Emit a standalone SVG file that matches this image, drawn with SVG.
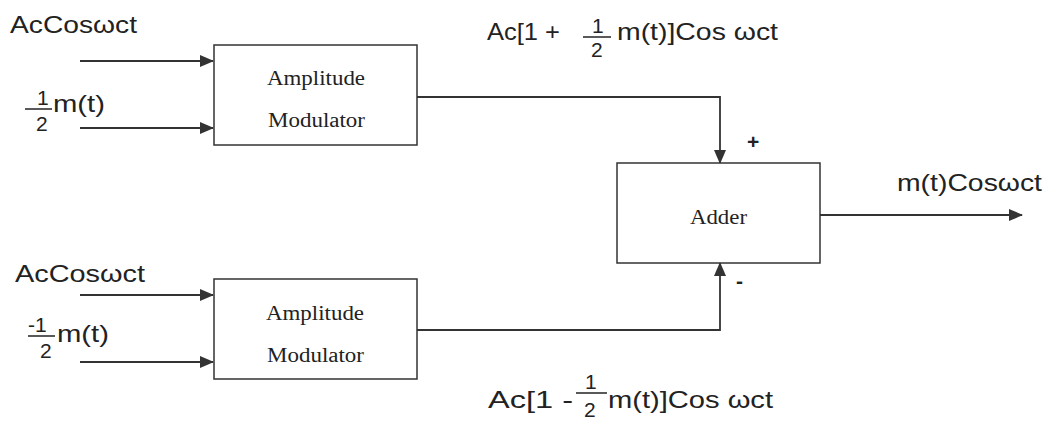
<svg xmlns="http://www.w3.org/2000/svg" width="1050" height="427" viewBox="0 0 1050 427">
<style>
.box{fill:#fff;stroke:#333;stroke-width:1.5}
.ln{fill:none;stroke:#333;stroke-width:1.8}
.s{font-family:"Liberation Sans",Arial,sans-serif;font-size:24px;fill:#222}
.f{font-family:"Liberation Sans",Arial,sans-serif;font-size:21px;fill:#222}
.r{font-family:"Liberation Serif","Times New Roman",serif;font-size:20px;fill:#222}
</style>
<defs>
<marker id="ah" markerWidth="14" markerHeight="12" refX="13" refY="6" orient="auto" markerUnits="userSpaceOnUse">
<path d="M0,0 L14,6 L0,12 Z" fill="#333"/>
</marker>
</defs>
<rect width="1050" height="427" fill="#fff"/>
<g id="connectors">
<line class="ln" x1="80" y1="61" x2="213" y2="61" marker-end="url(#ah)"/>
<line class="ln" x1="80" y1="128" x2="213" y2="128" marker-end="url(#ah)"/>
<line class="ln" x1="80" y1="295" x2="213" y2="295" marker-end="url(#ah)"/>
<line class="ln" x1="80" y1="362" x2="213" y2="362" marker-end="url(#ah)"/>
<polyline class="ln" points="417,97 720,97 720,163" marker-end="url(#ah)"/>
<polyline class="ln" points="417,330 720,330 720,263" marker-end="url(#ah)"/>
<line class="ln" x1="820" y1="215" x2="1022" y2="215" marker-end="url(#ah)"/>
</g>
<g id="mod1">
<rect class="box" x="214" y="45" width="203" height="100"/>
<text class="r" x="267" y="85" textLength="98" lengthAdjust="spacingAndGlyphs">Amplitude</text>
<text class="r" x="268" y="127" textLength="97" lengthAdjust="spacingAndGlyphs">Modulator</text>
</g>
<g id="mod2">
<rect class="box" x="214" y="279" width="203" height="100"/>
<text class="r" x="266" y="320" textLength="98" lengthAdjust="spacingAndGlyphs">Amplitude</text>
<text class="r" x="267" y="362" textLength="97" lengthAdjust="spacingAndGlyphs">Modulator</text>
</g>
<g id="adder">
<rect class="box" x="617" y="163" width="203" height="100"/>
<text class="r" x="690" y="224" textLength="57" lengthAdjust="spacingAndGlyphs">Adder</text>
</g>
<g id="labels">
<text class="s" x="10" y="33" textLength="127" lengthAdjust="spacingAndGlyphs">AcCosωct</text>
<text class="f" x="37" y="105">1</text>
<line x1="25" y1="109" x2="52" y2="109" stroke="#222" stroke-width="1.5"/>
<text class="f" x="36" y="131">2</text>
<text class="s" x="53" y="112" textLength="52" lengthAdjust="spacingAndGlyphs">m(t)</text>

<text class="s" x="15" y="282" textLength="130" lengthAdjust="spacingAndGlyphs">AcCosωct</text>
<text class="f" x="28" y="332">-1</text>
<line x1="28" y1="336" x2="55" y2="336" stroke="#222" stroke-width="1.5"/>
<text class="f" x="40" y="358">2</text>
<text class="s" x="57" y="342" textLength="52" lengthAdjust="spacingAndGlyphs">m(t)</text>

<text class="s" x="487" y="40" textLength="73" lengthAdjust="spacingAndGlyphs">Ac[1 +</text>
<text class="f" x="592" y="33">1</text>
<line x1="583" y1="37" x2="611" y2="37" stroke="#222" stroke-width="1.5"/>
<text class="f" x="591" y="57">2</text>
<text class="s" x="617" y="40" textLength="161" lengthAdjust="spacingAndGlyphs">m(t)]Cos ωct</text>

<text class="s" x="488" y="408" textLength="85" lengthAdjust="spacingAndGlyphs">Ac[1  -</text>
<text class="f" x="585" y="389">1</text>
<line x1="576" y1="393" x2="607" y2="393" stroke="#222" stroke-width="1.5"/>
<text class="f" x="584" y="417">2</text>
<text class="s" x="608" y="408" textLength="165" lengthAdjust="spacingAndGlyphs">m(t)]Cos ωct</text>

<text class="s" x="897" y="191" textLength="145" lengthAdjust="spacingAndGlyphs">m(t)Cosωct</text>
<text class="f" x="747" y="149" font-weight="bold">+</text>
<text class="f" x="736" y="288" font-weight="bold">-</text>
</g>
</svg>
